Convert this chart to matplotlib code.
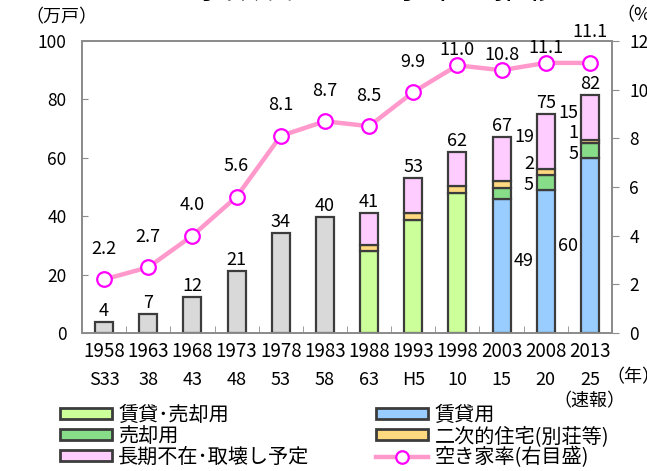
import matplotlib
matplotlib.use('Agg')
import matplotlib.pyplot as plt
from matplotlib.patches import Patch
from matplotlib.lines import Line2D
import numpy as np

plt.rcParams['font.family'] = ['Noto Sans CJK JP', 'DejaVu Sans']

# ---------------- data ----------------
years = ['1958', '1963', '1968', '1973', '1978', '1983', '1988', '1993', '1998', '2003', '2008', '2013']
eras = ['S33', '38', '43', '48', '53', '58', '63', 'H5', '10', '15', '20', '25']
total_only = [3.7, 6.6, 12.4, 21.1, 34.2, 39.7, 0, 0, 0, 0, 0, 0]          # gray bars (no breakdown)
rent_or_sale = [0, 0, 0, 0, 0, 0, 28.0, 38.6, 48.0, 0, 0, 0]               # 賃貸・売却用
rent = [0, 0, 0, 0, 0, 0, 0, 0, 0, 45.9, 49.0, 59.9]                       # 賃貸用
sale = [0, 0, 0, 0, 0, 0, 0, 0, 0, 3.7, 5.1, 5.0]                          # 売却用
secondary = [0, 0, 0, 0, 0, 0, 2.0, 2.5, 2.3, 2.4, 2.0, 1.3]               # 二次的住宅(別荘等)
long_absent = [0, 0, 0, 0, 0, 0, 11.0, 11.9, 11.7, 15.0, 18.9, 15.4]       # 長期不在・取壊し予定
vacancy_rate = [2.2, 2.7, 4.0, 5.6, 8.1, 8.7, 8.5, 9.9, 11.0, 10.8, 11.1, 11.1]
breakdown_labelled = ['2008', '2013']

# ---------------- style ----------------
C_GRAY = '#d9d9d9'
C_RS = '#ccff99'
C_RENT = '#99ccff'
C_SALE = '#88dd88'
C_SEC = '#ffd97f'
C_LONG = '#ffccff'
C_EDGE = '#3c3c3c'
C_SPINE = '#8c8c8c'
rate_label_dy = [22, 22, 22, 22, 22, 22, 22, 22, 11, 11, 11, 22]

fig = plt.figure(figsize=(6.47, 4.71), dpi=100)
ax = fig.add_axes([82 / 647, 1 - 333 / 471, 530 / 647, 292 / 471])
ax2 = ax.twinx()

x = np.arange(len(years))
W = 0.41
LW = 1.6

def stack(vals, bottom, color):
    v = np.array(vals, dtype=float)
    m = v > 0
    ax.bar(x[m], v[m], W, bottom=bottom[m], color=color, edgecolor=C_EDGE, linewidth=LW, zorder=3)
    return bottom + v

bottom = np.zeros(len(x))
bottom = stack(total_only, bottom, C_GRAY)
bottom = stack(rent, bottom, C_RENT)
bottom = stack(rent_or_sale, bottom, C_RS)
bottom = stack(sale, bottom, C_SALE)
bottom = stack(secondary, bottom, C_SEC)
bottom = stack(long_absent, bottom, C_LONG)
totals = bottom

lab_fs = 13
for i, t in enumerate(totals):
    ax.annotate(f'{t:.0f}', (x[i], t), xytext=(0, 1.5), textcoords='offset points',
                ha='center', va='bottom', fontsize=lab_fs, zorder=5)

# segment labels left of the last two bars
for i, yr in enumerate(years):
    if yr not in breakdown_labelled:
        continue
    b = 0.0
    for vals, dy in ((rent, 0), (sale, -2), (secondary, 6), (long_absent, 3)):
        v = vals[i]
        ax.annotate(f'{v:.0f}', (x[i] - W / 2, b + v / 2), xytext=(-2, dy), textcoords='offset points',
                    ha='right', va='center', fontsize=lab_fs, zorder=5)
        b += v

ax.set_xlim(-0.5, len(x) - 0.5)
ax.set_ylim(0, 100)
ax2.set_ylim(0, 12)

ax2.plot(x, vacancy_rate, color='#ff99cc', lw=3.2, marker='o', ms=10.5, mfc='white',
         mec='#ff00ff', mew=1.6, zorder=4, solid_capstyle='round')
for i, r in enumerate(vacancy_rate):
    ax2.annotate(f'{r:.1f}', (x[i], r), xytext=(0, rate_label_dy[i]), textcoords='offset points',
                 ha='center', va='center', fontsize=lab_fs, zorder=6, annotation_clip=False)

for a in (ax, ax2):
    for s in a.spines.values():
        s.set_color(C_SPINE)
        s.set_linewidth(1.3)
    a.set_facecolor('none')

ax.set_yticks(np.arange(0, 101, 20))
ax2.set_yticks(np.arange(0, 13, 2))
ax.tick_params(axis='y', direction='in', length=4, color=C_SPINE, labelsize=12.5, pad=11)
ax2.tick_params(axis='y', direction='out', length=5, color=C_SPINE, labelsize=12.5, pad=7.5)

ax.set_xticks(x)
ax.set_xticklabels(years, fontsize=13.5)
ax.tick_params(axis='x', length=0, pad=6)
ax.set_xticks(np.arange(-0.5, len(x), 1.0), minor=True)
ax.tick_params(axis='x', which='minor', direction='in', length=5, color=C_SPINE)

for i, e in enumerate(eras):
    ax.annotate(e, (x[i], 0), xycoords=ax.get_xaxis_transform(), xytext=(0, -34),
                textcoords='offset points', ha='center', va='center', fontsize=13)
ax.annotate('（速報）', (x[-1], 0), xycoords=ax.get_xaxis_transform(), xytext=(0, -49),
            textcoords='offset points', ha='center', va='center', fontsize=13)

fig.text(61 / 647, 1 - 17 / 471, '（万戸）', ha='center', va='center', fontsize=13)
fig.text(616 / 647, 1 - 15 / 471, '（%）', ha='left', va='center', fontsize=13)
fig.text(606 / 647, 1 - 377 / 471, '（年）', ha='left', va='center', fontsize=13)
fig.text(343 / 647, 1 + 12 / 471, '空き家数及び空き家率の推移', ha='center', va='center', fontsize=24)

handles = [
    Patch(facecolor=C_RS, edgecolor=C_EDGE, linewidth=2),
    Patch(facecolor=C_SALE, edgecolor=C_EDGE, linewidth=2),
    Patch(facecolor=C_LONG, edgecolor=C_EDGE, linewidth=2),
    Patch(facecolor=C_RENT, edgecolor=C_EDGE, linewidth=2),
    Patch(facecolor=C_SEC, edgecolor=C_EDGE, linewidth=2),
    Line2D([], [], color='#ff99cc', lw=3.2, marker='o', ms=9, mfc='white', mec='#ff00ff', mew=1.6),
]
labels = ['賃貸･売却用', '売却用', '長期不在･取壊し予定', '賃貸用', '二次的住宅(別荘等)', '空き家率(右目盛)']
fig.legend(handles, labels, ncol=2, loc='upper left', bbox_to_anchor=(60 / 647, 1 - 405 / 471),
           frameon=False, fontsize=14.5, handlelength=2.6, handleheight=0.45, handletextpad=0.3,
           labelspacing=0.0, columnspacing=3.3, borderpad=0, borderaxespad=0)

fig.savefig('out.png', dpi=100)
